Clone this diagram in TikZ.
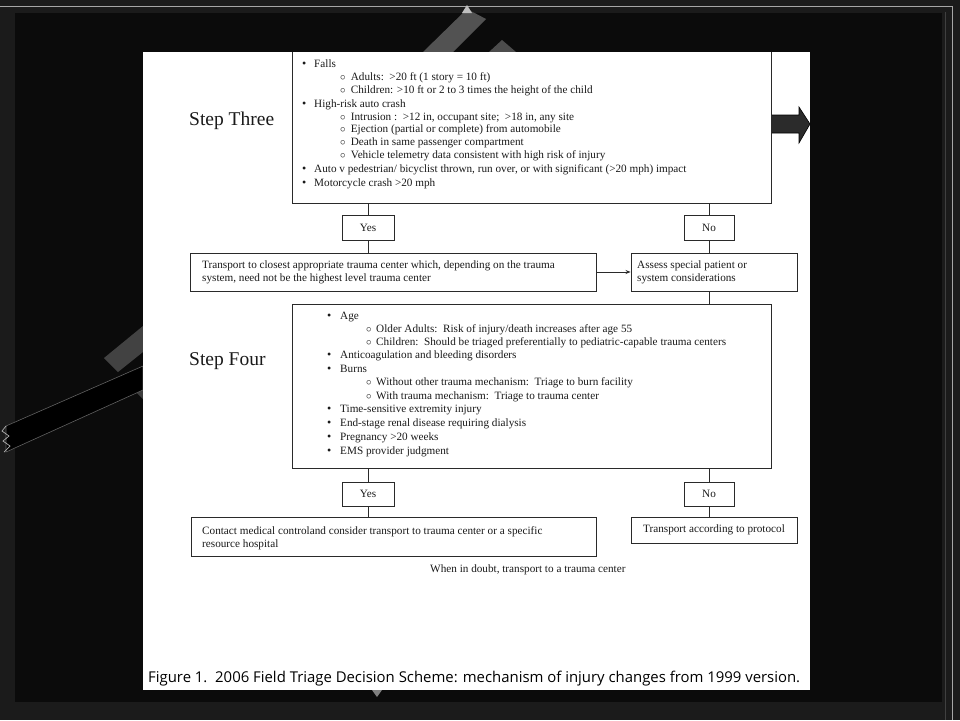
\documentclass[tikz,border=0pt]{standalone}
\usepackage{fontspec}
\setmainfont{Liberation Serif}
\newfontfamily\capfont{Open Sans}
\usetikzlibrary{arrows.meta}
\definecolor{bgout}{HTML}{1B1B1B}
\definecolor{bgin}{HTML}{0B0B0B}
\definecolor{boxc}{HTML}{2A2A2A}
\definecolor{txtc}{HTML}{1A1A1A}
\newcommand{\mybul}[1]{\makebox[#1][l]{\fontsize{12}{12}\selectfont•}}
\newcommand{\mysub}[1]{\makebox[#1][l]{$\circ$}}
\begin{document}
\begin{tikzpicture}[x=1pt,y=-1pt,
  box/.style={draw=boxc, line width=0.9pt, fill=white, inner sep=0pt},
  txt/.style={anchor=base west, inner sep=0pt, font=\fontsize{11.2}{13}\selectfont, text=txtc},
  ctxt/.style={inner sep=0pt, font=\fontsize{11.2}{13}\selectfont, text=txtc},
  steplbl/.style={anchor=base west, inner sep=0pt, font=\fontsize{19.5}{22}\selectfont, text=txtc},
  conn/.style={draw=boxc, line width=0.9pt}]
\useasboundingbox (0,0) rectangle (960,720);
% background
\fill[bgout] (0,0) rectangle (960,720);
\draw[color=gray!70, line width=1pt] (0,6) -- (952,6) -- (952,720);
\draw[color=black!75, line width=0.8pt] (945,12) -- (945,720);
\fill[bgin] (15,13) rectangle (942,702);
% decorations
\fill[black!68] (467,9) -- (486,19) -- (453,52) -- (423,52) -- cycle;
\fill[white!75!black] (462,13) -- (467,5) -- (472,13) -- cycle;
\fill[black!70] (502,40) -- (516,52) -- (489,52) -- cycle;
\fill[black!74] (104,358) -- (143,326) -- (143,352) -- (118,372) -- cycle;
\fill[black!76] (137,393) -- (143,387) -- (143,399) -- cycle;
\filldraw[fill=black, draw=black!62, line width=0.6pt] (6,426) -- (143,366) -- (143,390) -- (6,452) -- cycle;
\draw[white!70!black, line width=0.7pt] (6,426) -- (2,431) -- (9,436) -- (3,441) -- (10,446) -- (4,452);
\fill[gray] (372,690) -- (382,690) -- (377,697) -- cycle;
% white panel
\fill[white] (143,52) rectangle (810,690);
\begin{scope}
\clip (143,52) rectangle (810,690);
% big arrow
\filldraw[fill=black!83, draw=black, line width=0.6pt] (771,115) -- (799,115) -- (799,107) -- (810,124) -- (799,143) -- (799,133) -- (771,133) -- cycle;
% boxes
\node[box, minimum width=479pt, minimum height=158pt] (s3) at (531.5,124) {};
\node[box, minimum width=52pt, minimum height=25pt] (y1) at (368,227.5) {};
\node[box, minimum width=50pt, minimum height=25pt] (n1) at (709,227.5) {};
\node[box, minimum width=406pt, minimum height=38pt] (tr) at (393,272) {};
\node[box, minimum width=166pt, minimum height=38pt] (as) at (714,272) {};
\node[box, minimum width=479pt, minimum height=164pt] (s4) at (531.5,386) {};
\node[box, minimum width=52pt, minimum height=24pt] (y2) at (368,494) {};
\node[box, minimum width=50pt, minimum height=24pt] (n2) at (709,494) {};
\node[box, minimum width=405pt, minimum height=39pt] (ct) at (393.5,536.5) {};
\node[box, minimum width=166pt, minimum height=26pt] (pr) at (714,530) {};
% connectors
\draw[conn] (y1.north) -- (y1.north |- s3.south);
\draw[conn] (y1.south) -- (y1.south |- tr.north);
\draw[conn] (n1.north) -- (n1.north |- s3.south);
\draw[conn] (n1.south) -- (n1.south |- as.north);
\draw[conn] (n1.south |- as.south) -- (n1.south |- s4.north);
\draw[conn, -{Stealth[length=5pt,width=4pt]}] (tr.east) -- (as.west);
\draw[conn] (y2.north) -- (y2.north |- s4.south);
\draw[conn] (y2.south) -- (y2.south |- ct.north);
\draw[conn] (n2.north) -- (n2.north |- s4.south);
\draw[conn] (n2.south) -- (n2.south |- pr.north);
% labels
\node[steplbl] (l3) at (189,125) {Step Three};
\node[steplbl] (l4) at (189,365) {Step Four};
% Step Three text
\node[txt] (a1) at (302,67) {\mybul{12pt}Falls};
\node[txt] (a2) at (340,80) {\mysub{10.7pt}Adults:\ \ >20 ft (1 story = 10 ft)};
\node[txt] (a3) at (340,93.5) {\mysub{10.7pt}Children: >10 ft or 2 to 3 times the height of the child};
\node[txt] (a4) at (302,107) {\mybul{12pt}High-risk auto crash};
\node[txt] (a5) at (340,120) {\mysub{10.7pt}Intrusion :\ \ >12 in, occupant site;\ \ >18 in, any site};
\node[txt] (a6) at (340,132.5) {\mysub{10.7pt}Ejection (partial or complete) from automobile};
\node[txt] (a7) at (340,145.5) {\mysub{10.7pt}Death in same passenger compartment};
\node[txt] (a8) at (340,158.5) {\mysub{10.7pt}Vehicle telemetry data consistent with high risk of injury};
\node[txt] (a9) at (302,172) {\mybul{12pt}Auto v pedestrian/ bicyclist thrown, run over, or with significant (>20 mph) impact};
\node[txt] (a10) at (302,186) {\mybul{12pt}Motorcycle crash >20 mph};
% Step Four text
\node[txt] (b1) at (327,319.5) {\mybul{13pt}Age};
\node[txt] (b2) at (366,332) {\mysub{10pt}Older Adults:\ \ Risk of injury/death increases after age 55};
\node[txt] (b3) at (366,345.5) {\mysub{10pt}Children:\ \ Should be triaged preferentially to pediatric-capable trauma centers};
\node[txt] (b4) at (327,358.5) {\mybul{13pt}Anticoagulation and bleeding disorders};
\node[txt] (b5) at (327,372.5) {\mybul{13pt}Burns};
\node[txt] (b6) at (366,385.5) {\mysub{10pt}Without other trauma mechanism:\ \ Triage to burn facility};
\node[txt] (b7) at (366,399) {\mysub{10pt}With trauma mechanism:\ \ Triage to trauma center};
\node[txt] (b8) at (327,412.5) {\mybul{13pt}Time-sensitive extremity injury};
\node[txt] (b9) at (327,426.5) {\mybul{13pt}End-stage renal disease requiring dialysis};
\node[txt] (b10) at (327,440.5) {\mybul{13pt}Pregnancy >20 weeks};
\node[txt] (b11) at (327,454.5) {\mybul{13pt}EMS provider judgment};
% small boxes text
\node[ctxt] (y1t) at (y1) {Yes};
\node[ctxt] (n1t) at (n1) {No};
\node[ctxt] (y2t) at (y2) {Yes};
\node[ctxt] (n2t) at (n2) {No};
\node[txt] (tr1) at (202,268) {Transport to closest appropriate trauma center\ which,\ depending on the trauma};
\node[txt] (tr2) at (202,281.5) {system, need not be the highest level trauma center};
\node[txt] (as1) at (637,268) {Assess special patient or};
\node[txt] (as2) at (637,281.5) {system considerations};
\node[txt] (ct1) at (202,534) {Contact medical controland consider transport to trauma center or a specific};
\node[txt] (ct2) at (202,547) {resource hospital};
\node[ctxt] (prt) at (pr) {Transport according to protocol};
\node[txt] (wd) at (430,572) {When in doubt, transport to a trauma center};
\end{scope}
% caption
\node[anchor=base west, inner sep=0pt, font=\capfont\fontsize{14.9}{16}\selectfont, text=black] (cap) at (148,682) {Figure 1.\ \ 2006 Field Triage Decision Scheme: mechanism of injury changes from 1999 version.};
\end{tikzpicture}
\end{document}
